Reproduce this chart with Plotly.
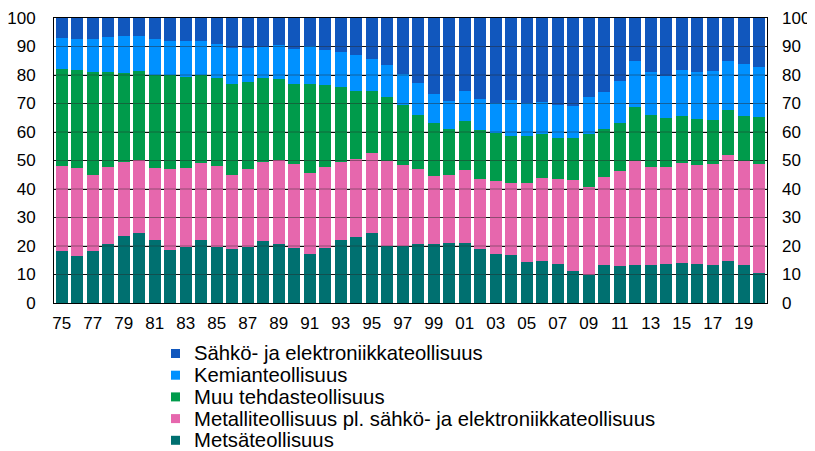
import plotly.graph_objects as go

years = list(range(1975, 2021))

metsa = [18.1, 16.4, 18.1, 20.6, 23.4, 24.6, 22.0, 18.5, 19.6, 22.2,
         19.8, 18.8, 19.5, 21.6, 20.8, 19.3, 17.1, 19.4, 22.0, 23.0,
         24.7, 19.9, 20.1, 20.7, 20.6, 21.2, 20.9, 18.8, 17.2, 16.7,
         14.3, 14.6, 13.6, 11.2, 9.9, 13.5, 13.0, 13.2, 13.2, 13.6,
         13.9, 13.6, 13.3, 14.6, 13.2, 10.5]
metalli = [29.9, 30.9, 26.9, 27.2, 26.2, 25.7, 25.5, 28.6, 27.7, 27.0,
           28.3, 26.0, 27.6, 28.0, 29.3, 29.6, 28.6, 28.3, 27.4, 27.5,
           27.9, 29.8, 28.4, 26.3, 23.8, 23.7, 25.9, 24.7, 25.5, 25.3,
           27.8, 29.1, 29.9, 32.1, 30.9, 30.7, 33.3, 36.5, 34.6, 34.2,
           35.3, 34.9, 35.6, 37.4, 36.5, 38.3]
muu = [34.1, 34.6, 36.1, 33.1, 31.0, 31.0, 32.4, 33.0, 32.1, 30.9,
       30.8, 32.2, 30.6, 29.3, 28.5, 27.9, 31.1, 28.7, 26.4, 23.8,
       21.7, 22.6, 20.9, 19.0, 18.6, 16.0, 16.9, 17.1, 16.9, 16.6,
       16.5, 15.5, 14.4, 14.7, 18.4, 16.9, 16.9, 19.0, 18.0, 17.1,
       16.4, 16.1, 15.3, 15.6, 15.9, 16.5]
kemia = [11.0, 10.7, 11.6, 12.6, 13.2, 12.4, 12.8, 11.9, 12.5, 11.9,
         12.1, 12.6, 11.8, 10.8, 11.8, 12.4, 13.5, 12.4, 12.2, 12.8,
         11.4, 11.3, 11.1, 11.3, 10.5, 9.9, 10.8, 11.1, 10.7, 12.5,
         11.6, 11.3, 11.5, 11.1, 13.2, 12.9, 14.8, 16.2, 15.3, 14.9,
         16.0, 16.5, 17.3, 17.2, 18.4, 17.5]
sahko = [6.9, 7.4, 7.3, 6.5, 6.2, 6.3, 7.3, 8.0, 8.1, 8.0,
         9.0, 10.4, 10.5, 10.3, 9.6, 10.8, 9.7, 11.2, 12.0, 12.9,
         14.3, 16.4, 19.5, 22.7, 26.5, 29.2, 25.5, 28.3, 29.7, 28.9,
         29.8, 29.5, 30.6, 30.9, 27.6, 26.0, 22.0, 15.1, 18.9, 20.2,
         18.4, 18.9, 18.5, 15.2, 16.0, 17.2]

series = [
    ("Metsäteollisuus", metsa, "#007070"),
    ("Metalliteollisuus pl. sähkö- ja elektroniikkateollisuus", metalli, "#E667AD"),
    ("Muu tehdasteollisuus", muu, "#009B4B"),
    ("Kemianteollisuus", kemia, "#0091FF"),
    ("Sähkö- ja elektroniikkateollisuus", sahko, "#1157BD"),
]

tick_years = list(range(1975, 2020, 2))
tick_text = [f"{y % 100:02d}" for y in tick_years]
y_ticks = list(range(0, 101, 10))

FONT = "Arial, Liberation Sans, sans-serif"

# The page body has an 8px margin, so the figure is drawn 8px in from the corner.
OFF = 8
W, H = 815 - OFF, 451 - OFF
ML, MR, MT, MB = 54 - OFF, 48, 18 - OFF, 148
PW, PH = W - ML - MR, H - MT - MB

fig = go.Figure()
for name, vals, col in series:
    fig.add_trace(go.Bar(x=years, y=vals, name=name, marker_color=col,
                         marker_line_width=0, showlegend=False))
# dummy trace for right axis
fig.add_trace(go.Scatter(x=[years[0]], y=[None], yaxis="y2", showlegend=False,
                         hoverinfo="skip"))

shapes = [dict(type="line", xref="paper", yref="y", x0=0, x1=1, y0=v, y1=v,
               line=dict(color="rgba(40,40,40,0.45)", width=1), layer="above")
          for v in y_ticks[1:-1]]

# custom legend (tight row spacing like the original), positions in page px
annotations = []
LEG_SQ_X = 171 - OFF
LEG_TXT_X = 192 - OFF
LEG_Y0 = 353.5 - OFF
LEG_DY = 21.7
SQ = 9
for i, (name, vals, col) in enumerate(reversed(series)):
    yc = LEG_Y0 + i * LEG_DY
    shapes.append(dict(type="rect", xref="paper", yref="paper",
                       x0=(LEG_SQ_X - ML) / PW, x1=(LEG_SQ_X + SQ - ML) / PW,
                       y0=(MT + PH - (yc + SQ / 2)) / PH,
                       y1=(MT + PH - (yc - SQ / 2)) / PH,
                       fillcolor=col, line=dict(width=0)))
    annotations.append(dict(xref="paper", yref="paper",
                            x=(LEG_TXT_X - ML) / PW, y=(MT + PH - yc) / PH,
                            xanchor="left", yanchor="middle", showarrow=False,
                            text=name, font=dict(size=20.3, family=FONT, color="black")))

fig.update_layout(
    barmode="stack",
    bargap=0.23,
    width=W, height=H,
    margin=dict(l=ML, r=MR, t=MT, b=MB, autoexpand=False),
    paper_bgcolor="white", plot_bgcolor="white",
    font=dict(family=FONT, size=17, color="black"),
    showlegend=False,
    xaxis=dict(range=[1974.5, 2020.5], tickvals=tick_years, ticktext=tick_text,
               showgrid=False, showline=True, linecolor="black", linewidth=1,
               mirror=True, ticks="", tickfont=dict(size=17), automargin=False,
               ticklabelstandoff=5),
    yaxis=dict(range=[0, 100], tickvals=y_ticks, showgrid=True,
               gridcolor="black", gridwidth=1, showline=True, linecolor="black",
               linewidth=1, mirror=True, ticks="", zeroline=False,
               tickfont=dict(size=17), ticklabelstandoff=14, automargin=False),
    yaxis2=dict(range=[0, 100], tickvals=y_ticks, overlaying="y", side="right",
                showgrid=False, showline=False, ticks="", zeroline=False,
                tickfont=dict(size=17), ticklabelstandoff=14, automargin=False),
    shapes=shapes,
    annotations=annotations,
)

fig.write_html("out.html")
